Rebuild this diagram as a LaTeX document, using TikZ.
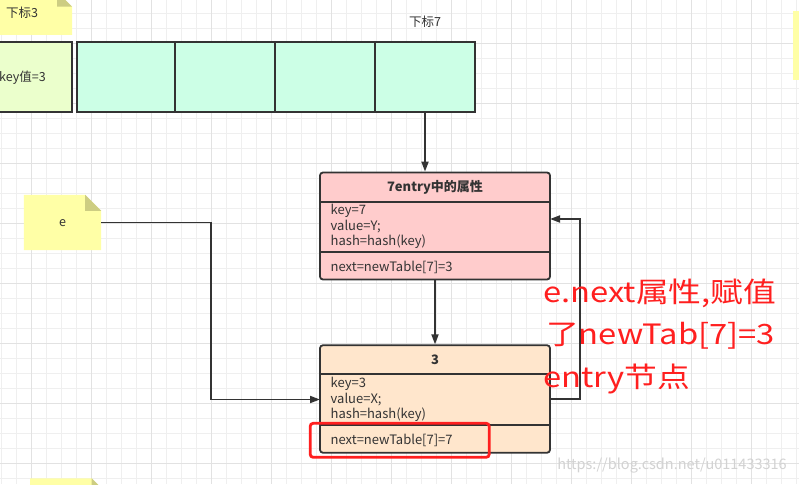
\documentclass[tikz,border=0pt]{standalone}
\usepackage{fontspec}
\setmainfont{Noto Sans CJK SC}
\usetikzlibrary{arrows.meta}
\definecolor{gridminor}{HTML}{EFEFEF}
\definecolor{gridmajor}{HTML}{E2E2E2}
\definecolor{ink}{HTML}{333333}
\definecolor{notefill}{HTML}{FFFFA6}
\definecolor{notefold}{HTML}{CDCD82}
\definecolor{mint}{HTML}{CCFFE6}
\definecolor{keyfill}{HTML}{EBFFCC}
\definecolor{pinkfill}{HTML}{FFCCCC}
\definecolor{orangefill}{HTML}{FFE6CC}
\definecolor{redtxt}{HTML}{FF1F1F}
\definecolor{wm}{HTML}{D2D2D2}
\tikzset{
  lineink/.style={draw=ink, line width=1.8pt},
  arr/.style={lineink, -{Triangle[length=10pt,width=7pt]}},
  cell/.style={lineink, fill=mint, minimum width=100pt, minimum height=70pt, inner sep=0pt},
  entry/.style={lineink, rounded corners=3pt, minimum width=230pt, inner sep=0pt},
  attr/.style={anchor=west, inner sep=0pt, text=ink, font=\fontsize{13pt}{15pt}\selectfont},
  head/.style={inner sep=0pt, text=ink, font=\fontsize{13pt}{15pt}\selectfont\bfseries},
  labeltxt/.style={inner sep=0pt, text=ink, font=\fontsize{12.5pt}{14pt}\selectfont},
  redline/.style={anchor=west, inner sep=0pt, text=redtxt, font=\fontsize{28pt}{32pt}\selectfont},
}
\begin{document}
\begin{tikzpicture}[x=1pt,y=-1pt]
\useasboundingbox (0,0) rectangle (799,484);
\clip (0,0) rectangle (799,484);
\fill[white] (0,0) rectangle (799,484);
% grid
\foreach \i in {0,...,53} {\draw[gridminor, line width=0.8pt] (1.7+15*\i,0) -- (1.7+15*\i,484);}
\foreach \i in {0,...,32} {\draw[gridminor, line width=0.8pt] (0,13.3+15*\i) -- (799,13.3+15*\i);}
\foreach \i in {0,...,13} {\draw[gridmajor, line width=0.8pt] (31.7+60*\i,0) -- (31.7+60*\i,484);}
\foreach \i in {-1,...,8} {\draw[gridmajor, line width=0.8pt] (0,43.3+60*\i) -- (799,43.3+60*\i);}

% note 下标3
\fill[notefill] (-5,-8.3) -- (57,-8.3) -- (72,6.7) -- (72,35) -- (-5,35) -- cycle;
\fill[notefold] (57,-8.3) -- (72,6.7) -- (57,6.7) -- cycle;
\node[labeltxt] (n3) at (22,13) {下标3};

% key box
\node[lineink, fill=keyfill, minimum width=100pt, minimum height=70pt, inner sep=0pt] (keybox) at (22.3,76.7) {};
\node[labeltxt] (keytxt) at (22.5,77.5) {key值=3};

% array cells
\node[cell] (c1) at (127,76.7) {};
\node[cell] (c2) at (225,76.7) {};
\node[cell] (c3) at (325,76.7) {};
\node[cell] (c4) at (425,76.7) {};
\node[labeltxt] (n7) at (425,22) {下标7};

% right edge note strip and bottom note
\fill[notefill] (792.7,11) rectangle (810,80);
\fill[notefill] (30,478.3) -- (91.7,478.3) -- (106.7,493.3) -- (106.7,500) -- (30,500) -- cycle;
\fill[notefold] (91.7,478.3) -- (106.7,493.3) -- (91.7,493.3) -- cycle;

% note e
\node[minimum width=77pt, minimum height=55pt, inner sep=0pt] (enote) at (62.5,222.5) {};
\fill[notefill] (enote.north west) -- ([xshift=-16pt]enote.north east) -- ([yshift=-16pt]enote.north east) -- (enote.south east) -- (enote.south west) -- cycle;
\fill[notefold] ([xshift=-16pt]enote.north east) -- ([yshift=-16pt]enote.north east) -- ([xshift=-16pt,yshift=-16pt]enote.north east) -- cycle;
\node[labeltxt] (etxt) at (62.5,223) {e};

% pink entry
\node[entry, fill=pinkfill, minimum height=107pt] (pink) at (435,226) {};
\draw[lineink] (320,202.3) -- (550,202.3);
\draw[lineink] (320,252) -- (550,252);
\node[head] (ph) at (435,187) {7entry中的属性};
\node[attr] (pk) at (330.5,210.5) {key=7};
\node[attr] (pv) at (330.5,226.5) {value=Y;};
\node[attr] (ph2) at (330.5,242) {hash=hash(key)};
\node[attr] (pn) at (330.5,267.5) {next=newTable[7]=3};

% orange entry
\node[entry, fill=orangefill, minimum height=107.5pt] (orange) at (435,399) {};
\draw[lineink] (320,374) -- (550,374);
\draw[lineink] (320,424.7) -- (550,424.7);
\node[head] (oh) at (435,360) {3};
\node[attr] (ok) at (330.5,383.5) {key=3};
\node[attr] (ov) at (330.5,399.5) {value=X;};
\node[attr] (oh2) at (330.5,415) {hash=hash(key)};
\node[attr] (on) at (330.5,440) {next=newTable[7]=7};

% red highlight
\node[draw=redtxt, line width=2.8pt, rounded corners=3pt, minimum width=179pt, minimum height=34pt, inner sep=0pt] (hl) at (399.7,440.3) {};

% connectors
\draw[arr] (c4.south) -- (c4.south |- pink.north);
\draw[arr] (pink.south) -- (orange.north);
\coordinate (eturn) at (210.7,222.5);
\coordinate (ein) at (320,399.5);
\draw[arr] (enote.east) -- (eturn) |- (ein);
\coordinate (oout) at (550,399);
\coordinate (loopc) at (580,219);
\coordinate (pin) at (550,219);
\draw[arr] (oout) -| (loopc) -- (pin);

% red annotation
\node[redline] (r1) at (543,293) {\scalebox{1.17}[1]{e.next属性,赋值}};
\node[redline] (r2) at (546,336) {\scalebox{1.17}[1]{了newTab[7]=3}};
\node[redline] (r3) at (543,379) {\scalebox{1.17}[1]{entry节点}};

% watermark
\node[inner sep=0pt, text=wm, font=\fontsize{14.5pt}{16pt}\selectfont] (wmk) at (672,466) {https://blog.csdn.net/u011433316};
\end{tikzpicture}
\end{document}
